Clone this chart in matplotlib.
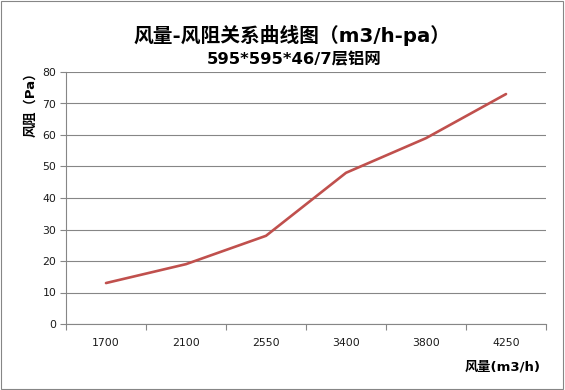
import matplotlib
matplotlib.use("Agg")
import matplotlib.pyplot as plt
from matplotlib.patches import Rectangle

plt.rcParams['font.family'] = ['Noto Sans CJK SC', 'DejaVu Sans']

categories = ['1700', '2100', '2550', '3400', '3800', '4250']
resistance = [13, 19, 28, 48, 59, 73]
yticks = [0, 10, 20, 30, 40, 50, 60, 70, 80]

title = '风量-风阻关系曲线图（m3/h-pa）'
subtitle = '595*595*46/7层铝网'
ylabel = '风阻（Pa）'
xlabel = '风量(m3/h)'

mixed = ['DejaVu Sans', 'Noto Sans CJK SC']

fig = plt.figure(figsize=(5.65, 3.9), dpi=100)
ax = fig.add_axes([66/565, 1-324/390, 480/565, 252/390])

x = list(range(len(categories)))
ax.plot(x, resistance, color='#C0504D', linewidth=1.9, solid_capstyle='round')

ax.set_xlim(-0.5, len(categories)-0.5)
ax.set_ylim(0, 80)
ax.set_yticks(yticks)
ax.set_yticklabels([str(v) for v in yticks], family='DejaVu Sans', fontsize=7.8, color='#1a1a1a')
ax.set_xticks(x)
ax.set_xticklabels(categories, family='DejaVu Sans', fontsize=7.8, color='#1a1a1a')
ax.set_xticks([i - 0.5 for i in range(len(categories)+1)], minor=True)
ax.tick_params(axis='x', which='major', length=0, pad=10)
ax.tick_params(axis='x', which='minor', length=4, color='#868686', width=0.8)
ax.tick_params(axis='y', length=4, color='#868686', width=0.8, pad=3)

ax.grid(axis='y', color='#868686', linewidth=0.8)
ax.set_axisbelow(True)
for s in ['top', 'right']:
    ax.spines[s].set_visible(False)
for s in ['left', 'bottom']:
    ax.spines[s].set_color('#868686')
    ax.spines[s].set_linewidth(0.8)

fig.text(292/565, 1-35/390, title, ha='center', va='center', fontsize=14.2, fontweight='bold', family=mixed)
fig.text(294/565, 1-60/390, subtitle, ha='center', va='center', fontsize=11.8, fontweight='bold', family=mixed)
fig.text(31/565, 1-101/390, ylabel, ha='center', va='center', rotation=90, fontsize=9.5, fontweight='bold', family=mixed)
fig.text(541/565, 1-367/390, xlabel, ha='right', va='center', fontsize=9.5, fontweight='bold', family=mixed)

fig.patches.append(Rectangle((0.002, 0.003), 0.995, 0.994, transform=fig.transFigure,
                             fill=False, edgecolor='#868686', linewidth=0.8))

fig.savefig('out.png', dpi=100)
